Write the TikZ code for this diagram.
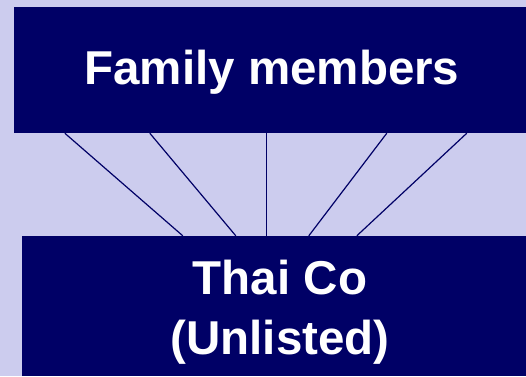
\documentclass[tikz,border=0pt]{standalone}
\usepackage{fontspec}
\setmainfont{Liberation Sans}
\definecolor{navy}{RGB}{0,0,102}
\definecolor{lav}{RGB}{204,204,238}
\begin{document}
\begin{tikzpicture}[x=1pt, y=1pt,
  every node/.style={font=\fontsize{47.5}{60}\selectfont\bfseries, text=white},
  ownbox/.style={fill=navy, inner sep=0pt},
  boxtext/.style={inner sep=0pt, align=center}]
\fill[lav] (0,0) rectangle (526,-376);
\useasboundingbox (0,0) rectangle (526,-376);
\node[ownbox, minimum width=512, minimum height=126] (fam) at (270,-70) {};
\node[boxtext] (famtext) at (272,-72) {Family members};
\node[ownbox, minimum width=504, minimum height=140] (thai) at (274,-306) {};
\node[boxtext] (thaitext) at (280,-312) {Thai Co\\(Unlisted)};
% shareholding links
\foreach \a/\b in {51/161, 136/214, 253/245, 373/287, 453/335}
  \draw[navy, line width=1.2pt] ([xshift=\a]fam.south west) -- ([xshift=\b]thai.north west);
\end{tikzpicture}
\end{document}
